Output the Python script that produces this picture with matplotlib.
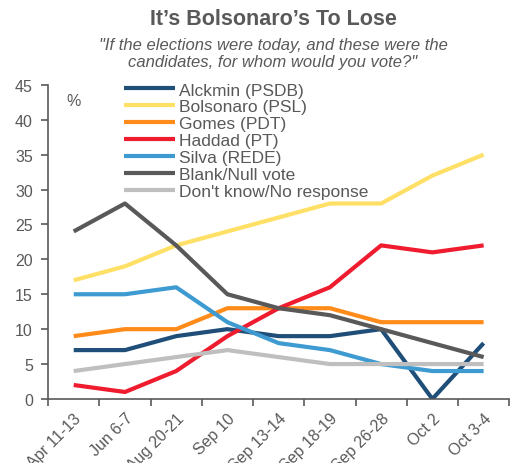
import matplotlib
matplotlib.use("Agg")
import matplotlib.pyplot as plt

plt.rcParams['font.family'] = ['Liberation Sans', 'DejaVu Sans']

dates = ["Apr 11-13", "Jun 6-7", "Aug 20-21", "Sep 10", "Sep 13-14",
         "Sep 18-19", "Sep 26-28", "Oct 2", "Oct 3-4"]

alckmin = [7, 7, 9, 10, 9, 9, 10, 0, 8]
bolsonaro = [17, 19, 22, 24, 26, 28, 28, 32, 35]
gomes = [9, 10, 10, 13, 13, 13, 11, 11, 11]
haddad = [2, 1, 4, 9, 13, 16, 22, 21, 22]
silva = [15, 15, 16, 11, 8, 7, 5, 4, 4]
blank = [24, 28, 22, 15, 13, 12, 10, 8, 6]
dont_know = [4, 5, 6, 7, 6, 5, 5, 5, 5]

series = [
    ("Alckmin (PSDB)", alckmin, "#1f4e79"),
    ("Bolsonaro (PSL)", bolsonaro, "#ffe066"),
    ("Gomes (PDT)", gomes, "#ff8c1a"),
    ("Haddad (PT)", haddad, "#ee1c2e"),
    ("Silva (REDE)", silva, "#3e9bd1"),
    ("Blank/Null vote", blank, "#595959"),
    ("Don't know/No response", dont_know, "#bfbfbf"),
]

grey = "#595959"

fig = plt.figure(figsize=(5.17, 4.64), dpi=100)
ax = fig.add_axes([0.093, 0.138, 0.892, 0.677])

x = list(range(len(dates)))
for name, vals, col in series:
    ax.plot(x, vals, color=col, lw=3, label=name, solid_capstyle='butt')

ax.set_xlim(-0.5, len(dates) - 0.5)
ax.set_ylim(0, 45)
ax.set_yticks(range(0, 46, 5))
ax.set_xticks([i - 0.5 for i in range(len(dates) + 1)], minor=False)
ax.set_xticklabels([])
ax.set_xticks(x, minor=True)
ax.set_xticklabels(dates, minor=True, rotation=45, ha='right',
                   rotation_mode='anchor', fontsize=11.5, color=grey)
ax.tick_params(axis='x', which='minor', length=0, pad=8)
ax.tick_params(axis='x', which='major', length=5, color=grey, width=1.2)
ax.tick_params(axis='y', length=5, color=grey, width=1.2, labelsize=11.5,
               labelcolor=grey, pad=6)

for s in ['top', 'right']:
    ax.spines[s].set_visible(False)
for s in ['left', 'bottom']:
    ax.spines[s].set_color(grey)
    ax.spines[s].set_linewidth(1.2)

ax.text(0.04, 0.975, "%", transform=ax.transAxes, fontsize=11.5, color=grey,
        va='top')

leg = ax.legend(loc='upper left', bbox_to_anchor=(0.15, 1.03), frameon=False,
                fontsize=12.5, handlelength=2.9, labelspacing=0.1,
                handletextpad=0.25, borderaxespad=0)
for t in leg.get_texts():
    t.set_color(grey)

fig.text(0.528, 0.958, "It\u2019s Bolsonaro\u2019s To Lose", ha='center', va='center',
         fontsize=15.5, fontweight='bold', color=grey)
fig.text(0.528, 0.884, "\"If the elections were today, and these were the\ncandidates, for whom would you vote?\"",
         ha='center', va='center', fontsize=12, style='italic', color=grey,
         linespacing=1.2)

fig.savefig("out.png", dpi=100)
